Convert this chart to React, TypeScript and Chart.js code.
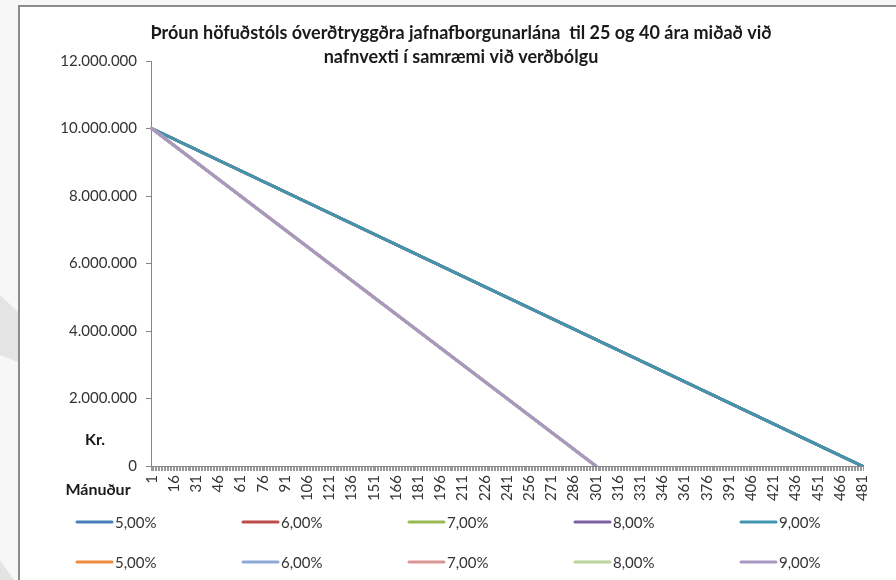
import React, { useEffect, useRef } from 'react';
import { Chart, registerables } from 'chart.js';

Chart.register(...registerables);

const TITLE_LINES = [
  'Þróun höfuðstóls óverðtryggðra jafnafborgunarlána  til 25 og 40 ára miðað við',
  'nafnvexti í samræmi við verðbólgu',
];
const Y_TITLE = 'Kr.';
const X_TITLE = 'Mánuður';

// Month categories 1..481 (category axis)
const MONTHS: string[] = Array.from({ length: 481 }, (_, i) => String(i + 1));

const RATES = ['5,00%', '6,00%', '7,00%', '8,00%', '9,00%'];

// 40-year loan principal (10M at month 1, 0 at month 481)
const LOAN_40_MONTHS = ['1', '481'];
const LOAN_40_PRINCIPAL = [10000000, 0];

// 25-year loan principal (10M at month 1, 0 at month 301)
const LOAN_25_MONTHS = ['1', '301'];
const LOAN_25_PRINCIPAL = [10000000, 0];

const Y_MIN = 0;
const Y_MAX = 12000000;
const Y_STEP = 2000000;

const COLORS_40 = ['#4A7EBB', '#BE4B48', '#98B954', '#7D60A0', '#4196AF'];
const COLORS_25 = ['#F08A3C', '#8EA9D8', '#D99694', '#BCD39A', '#A797C1'];

const fmt = (v: number) => String(Math.round(v)).replace(/\B(?=(\d{3})+(?!\d))/g, '.');

const FONT = 'Lato, "Open Sans", sans-serif';

const decorPlugin = {
  id: 'excelDecor',
  afterDraw(chart: any) {
    const ctx = chart.ctx;
    const ca = chart.chartArea;
    ctx.save();
    // Title
    ctx.fillStyle = '#1a1a1a';
    ctx.font = `bold 18px ${FONT}`;
    ctx.textAlign = 'center';
    ctx.textBaseline = 'middle';
    const cx = chart.width / 2 + 3;
    ctx.fillText(TITLE_LINES[0], cx, 26);
    ctx.fillText(TITLE_LINES[1], cx, 50);

    // Axis titles
    ctx.font = `bold 16px ${FONT}`;
    ctx.fillText(Y_TITLE, ca.left - 56, ca.bottom - 26);
    ctx.fillText(X_TITLE, ca.left - 53, ca.bottom + 24);

    // Legend
    const ds = chart.data.datasets;
    ctx.font = `15px ${FONT}`;
    ctx.textAlign = 'left';
    for (let i = 0; i < ds.length; i++) {
      const row = Math.floor(i / 5);
      const col = i % 5;
      const x = 57 + col * 166;
      const y = 515 + row * 40;
      ctx.strokeStyle = ds[i].borderColor;
      ctx.lineWidth = 3;
      ctx.lineCap = 'round';
      ctx.beginPath();
      ctx.moveTo(x, y);
      ctx.lineTo(x + 35, y);
      ctx.stroke();
      ctx.fillStyle = '#333333';
      ctx.fillText(ds[i].label, x + 38, y + 1);
    }
    ctx.restore();
  },
};

export default function App() {
  const ref = useRef<HTMLCanvasElement | null>(null);

  useEffect(() => {
    if (!ref.current) return;
    const datasets: any[] = [];
    RATES.forEach((r, i) => {
      datasets.push({
        label: r,
        data: LOAN_40_MONTHS.map((m, k) => ({ x: m, y: LOAN_40_PRINCIPAL[k] })),
        borderColor: COLORS_40[i],
        backgroundColor: COLORS_40[i],
        order: 20 - i,
      });
    });
    RATES.forEach((r, i) => {
      datasets.push({
        label: r,
        data: LOAN_25_MONTHS.map((m, k) => ({ x: m, y: LOAN_25_PRINCIPAL[k] })),
        borderColor: COLORS_25[i],
        backgroundColor: COLORS_25[i],
        order: 15 - i,
      });
    });

    const chart = new Chart(ref.current, {
      type: 'line',
      data: { labels: MONTHS, datasets },
      options: {
        animation: false,
        responsive: false,
        maintainAspectRatio: false,
        layout: { padding: { top: 54, right: 33, bottom: 69, left: 0 } },
        plugins: {
          legend: { display: false },
          title: { display: false },
          tooltip: { enabled: false },
        },
        elements: {
          point: { radius: 0 },
          line: { borderWidth: 3, tension: 0, borderCapStyle: 'round' },
        },
        scales: {
          x: {
            type: 'category',
            offset: true,
            grid: {
              display: true,
              drawOnChartArea: false,
              offset: true,
              tickLength: 5,
              color: '#9a9a9a',
              lineWidth: 1,
            },
            border: { display: true, color: '#868686', width: 1 },
            ticks: {
              autoSkip: false,
              maxRotation: 90,
              minRotation: 90,
              padding: 4,
              color: '#333333',
              font: { family: FONT, size: 15 },
              callback: (_v: any, i: number) => (i % 15 === 0 ? MONTHS[i] : ''),
            },
            afterFit: (s: any) => {
              s.height = 45;
            },
          },
          y: {
            min: Y_MIN,
            max: Y_MAX,
            grid: {
              display: true,
              drawOnChartArea: false,
              tickLength: 5,
              color: '#868686',
            },
            border: { display: true, color: '#868686', width: 1 },
            ticks: {
              stepSize: Y_STEP,
              padding: 9,
              color: '#333333',
              font: { family: FONT, size: 15 },
              callback: (v: any) => fmt(Number(v)),
            },
            afterFit: (s: any) => {
              s.width = 131;
            },
          },
        },
      } as any,
      plugins: [decorPlugin],
    });
    return () => chart.destroy();
  }, []);

  return (
    <div
      style={{
        position: 'fixed',
        left: 0,
        top: 0,
        width: 896,
        height: 580,
        background: '#f7f7f7',
        overflow: 'hidden',
      }}
    >
      <div
        style={{
          position: 'absolute',
          left: 0,
          top: 0,
          width: 18,
          height: 580,
          background: '#e4e4e4',
          clipPath: 'polygon(0 295px, 18px 312px, 18px 362px, 0 355px)',
        }}
      />
      <div
        style={{
          position: 'absolute',
          left: 0,
          top: 0,
          width: 18,
          height: 580,
          background: '#e4e4e4',
          clipPath: 'polygon(0 560px, 14px 580px, 0 580px)',
        }}
      />
      <div
        style={{
          position: 'absolute',
          left: 18,
          top: 5,
          width: 900,
          height: 600,
          border: '2px solid #8c8c8c',
          background: '#ffffff',
          boxSizing: 'border-box',
        }}
      >
        <canvas ref={ref} width={876} height={573} style={{ display: 'block' }} />
      </div>
    </div>
  );
}
